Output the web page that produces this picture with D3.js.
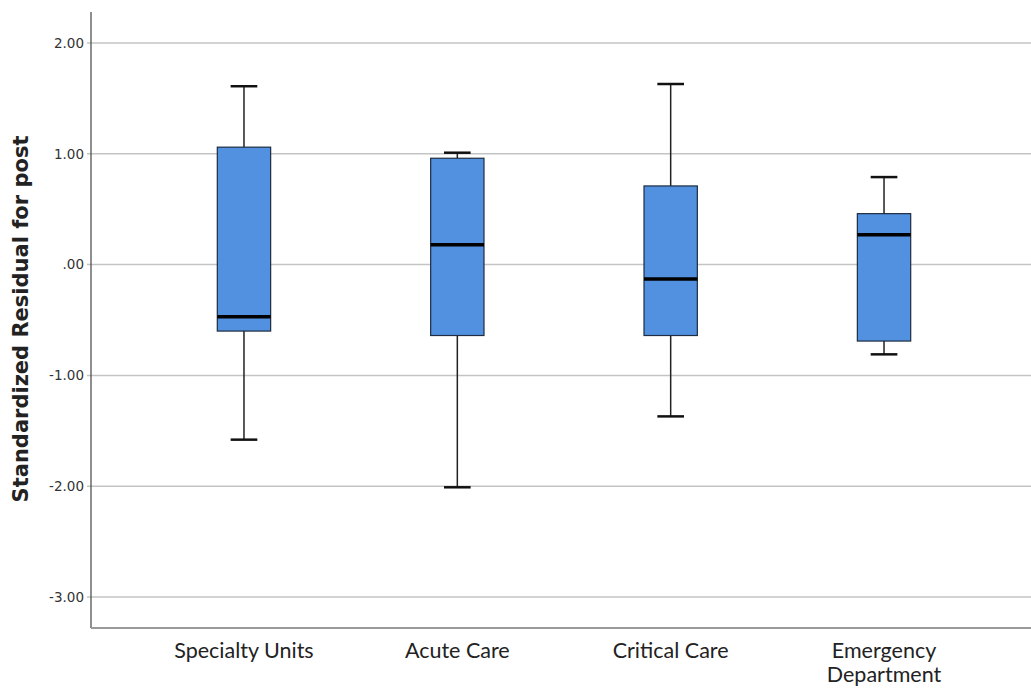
<!DOCTYPE html>
<html>
<head>
<meta charset="utf-8">
<script src="https://cdn.jsdelivr.net/npm/d3@7"></script>
<style>
  body { margin: 0; background: #fff; }
  text { font-family: "Lato", "Liberation Sans", sans-serif; }
</style>
</head>
<body>
<svg id="chart" width="1031" height="688"></svg>
<script>
// boxplot values
const categories = ["Specialty Units", "Acute Care", "Critical Care", "Emergency Department"];
const whiskerHigh = [1.61, 1.01, 1.63, 0.79];
const q3 = [1.06, 0.96, 0.71, 0.46];
const median = [-0.47, 0.18, -0.13, 0.27];
const q1 = [-0.60, -0.64, -0.64, -0.69];
const whiskerLow = [-1.58, -2.01, -1.37, -0.81];
const yTicks = [2, 1, 0, -1, -2, -3];
const yTickLabels = ["2.00", "1.00", ".00", "-1.00", "-2.00", "-3.00"];

const data = categories.map((c, i) => ({
  cat: c, hi: whiskerHigh[i], q3: q3[i], med: median[i], q1: q1[i], lo: whiskerLow[i]
}));

const svg = d3.select("#chart");
const plotLeft = 91, plotTop = 12, plotBottom = 628, plotRight = 1031;

const y = d3.scaleLinear().domain([-3.28, 2.28]).range([plotBottom, plotTop]);
const x = d3.scaleBand().domain(categories).range([137.3, 990.7]);
const boxW = x.bandwidth() * 0.25;
const capW = boxW * 0.5;

// gridlines
svg.append("g")
  .selectAll("line")
  .data(yTicks)
  .enter()
  .append("line")
  .attr("x1", plotLeft - 4)
  .attr("x2", plotRight)
  .attr("y1", d => y(d))
  .attr("y2", d => y(d))
  .attr("stroke", "#c4c4c4")
  .attr("stroke-width", 1.5);

// y axis: tick labels only, line drawn separately
const yAxis = d3.axisLeft(y)
  .tickValues(yTicks)
  .tickFormat((d, i) => yTickLabels[i])
  .tickSize(0)
  .tickPadding(7);

const yg = svg.append("g")
  .attr("transform", `translate(${plotLeft},0)`)
  .call(yAxis);
yg.select(".domain").remove();
yg.selectAll("text")
  .attr("font-size", 13.5)
  .attr("fill", "#333")
  .style("font-family", "'DejaVu Sans', sans-serif");

// axis lines
svg.append("line")
  .attr("x1", plotLeft).attr("x2", plotLeft)
  .attr("y1", plotTop).attr("y2", plotBottom)
  .attr("stroke", "#444").attr("stroke-width", 1.2);
svg.append("line")
  .attr("x1", plotLeft).attr("x2", plotRight)
  .attr("y1", plotBottom).attr("y2", plotBottom)
  .attr("stroke", "#9a9a9a").attr("stroke-width", 2);

// y title
svg.append("text")
  .attr("transform", "translate(28, 319) rotate(-90)")
  .attr("text-anchor", "middle")
  .attr("font-size", 21)
  .attr("font-weight", "bold")
  .attr("fill", "#222")
  .style("font-family", "'DejaVu Sans', sans-serif")
  .text("Standardized Residual for post");

// x labels, long ones wrapped onto separate lines
const xLines = categories.flatMap(c => {
  const parts = c.length > 16 ? c.split(" ") : [c];
  return parts.map((w, i) => ({ cat: c, text: w, line: i }));
});

svg.append("g")
  .selectAll("text")
  .data(xLines)
  .enter()
  .append("text")
  .attr("text-anchor", "middle")
  .attr("font-size", 21.5)
  .attr("fill", "#222")
  .attr("x", d => x(d.cat) + x.bandwidth() / 2)
  .attr("y", d => 658 + d.line * 24)
  .text(d => d.text);

// boxes
const g = svg.append("g")
  .selectAll("g")
  .data(data)
  .enter()
  .append("g")
  .attr("transform", d => `translate(${x(d.cat) + x.bandwidth() / 2},0)`);

// whiskers
g.append("line")
  .attr("x1", 0).attr("x2", 0)
  .attr("y1", d => y(d.hi)).attr("y2", d => y(d.q3))
  .attr("stroke", "#222").attr("stroke-width", 1.5);
g.append("line")
  .attr("x1", 0).attr("x2", 0)
  .attr("y1", d => y(d.q1)).attr("y2", d => y(d.lo))
  .attr("stroke", "#222").attr("stroke-width", 1.5);

// caps
g.append("line")
  .attr("x1", -capW / 2).attr("x2", capW / 2)
  .attr("y1", d => y(d.hi)).attr("y2", d => y(d.hi))
  .attr("stroke", "#111").attr("stroke-width", 2.5);
g.append("line")
  .attr("x1", -capW / 2).attr("x2", capW / 2)
  .attr("y1", d => y(d.lo)).attr("y2", d => y(d.lo))
  .attr("stroke", "#111").attr("stroke-width", 2.5);

// box
g.append("rect")
  .attr("x", -boxW / 2)
  .attr("width", boxW)
  .attr("y", d => y(d.q3))
  .attr("height", d => y(d.q1) - y(d.q3))
  .attr("fill", "#5290e0")
  .attr("stroke", "#1e2d40")
  .attr("stroke-width", 1.2);

// median
g.append("line")
  .attr("x1", -boxW / 2).attr("x2", boxW / 2)
  .attr("y1", d => y(d.med)).attr("y2", d => y(d.med))
  .attr("stroke", "#000").attr("stroke-width", 3.5);
</script>
</body>
</html>
